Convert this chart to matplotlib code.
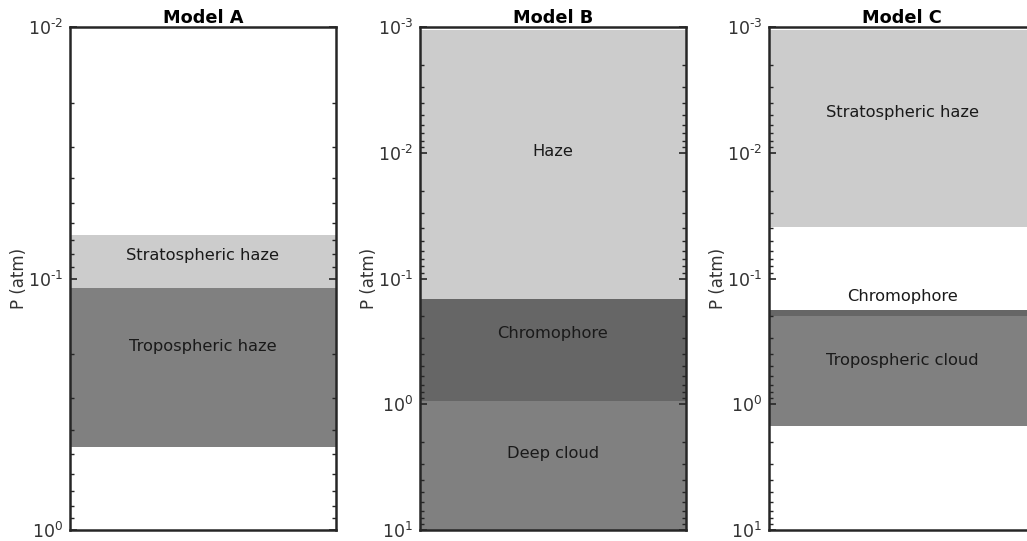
"""Cloud/haze layer structure for three models, drawn as horizontal bands."""

import math

import matplotlib

matplotlib.use("Agg")
import matplotlib.pyplot as plt
from matplotlib.ticker import FuncFormatter, LogLocator, NullFormatter

LIGHT = "#cccccc"
MID = "#808080"
DARK = "#666666"

models = ["Model A", "Model B", "Model C"]
y_limits = [(1e-2, 1e0), (1e-3, 1e1), (1e-3, 1e1)]

# layer bands: (top pressure, bottom pressure) in atm
layer_tops = [[0.067, 0.109], [1.05e-3, 0.145, 0.95], [1.05e-3, 0.178, 0.198]]
layer_bottoms = [[0.109, 0.467], [0.145, 0.95, 10.0], [0.039, 0.198, 1.49]]
layer_colors = [[LIGHT, MID], [LIGHT, DARK, MID], [LIGHT, DARK, MID]]

# labels and the pressure where each one sits
layer_names = [
    ["Stratospheric haze", "Tropospheric haze"],
    ["Haze", "Chromophore", "Deep cloud"],
    ["Stratospheric haze", "Chromophore", "Tropospheric cloud"],
]
label_pressures = [[0.081, 0.187], [0.0097, 0.274, 2.48], [0.0048, 0.139, 0.45]]


def power_label(v, _pos):
    e = int(round(math.log10(v)))
    if e < 0:
        return r"$10^{\text{-}%d}$" % (-e)
    return r"$10^{%d}$" % e


fig = plt.figure(figsize=(10.27, 5.41), dpi=100)
W, H = 1027, 541
lefts = [70, 420, 769]
ax_w, top, bottom = 266, 27, 530

for i, name in enumerate(models):
    ax = fig.add_axes([lefts[i] / W, 1 - bottom / H, ax_w / W, (bottom - top) / H])
    for y0, y1, c in zip(layer_tops[i], layer_bottoms[i], layer_colors[i]):
        ax.axhspan(y0, y1, color=c, lw=0)
    for txt, p in zip(layer_names[i], label_pressures[i]):
        ax.text(0.5, p, txt, ha="center", va="center", fontsize=11.7, color="#1a1a1a")
    ax.set_yscale("log")
    ax.set_xlim(0, 1)
    ax.set_ylim(y_limits[i][1], y_limits[i][0])
    ax.yaxis.set_major_locator(LogLocator(base=10, numticks=10))
    ax.yaxis.set_major_formatter(FuncFormatter(power_label))
    ax.yaxis.set_minor_locator(LogLocator(base=10, subs=range(2, 10), numticks=20))
    ax.yaxis.set_minor_formatter(NullFormatter())
    ax.set_xticks([])
    ax.tick_params(axis="y", which="both", direction="in", left=True, right=True,
                   labelsize=12.5, labelcolor="#333333", color="#262626", pad=5)
    ax.tick_params(axis="y", which="major", length=5, width=1.2)
    ax.tick_params(axis="y", which="minor", length=3, width=1.0)
    for s in ax.spines.values():
        s.set_linewidth(1.8)
        s.set_color("#262626")
    ax.set_ylabel("P (atm)", fontsize=12, color="#333333", va="center")
    ax.yaxis.set_label_coords(-0.19, 0.5)
    ax.set_title(name, fontsize=12.8, fontweight="bold", pad=3)

fig.savefig("out.png", dpi=100)
